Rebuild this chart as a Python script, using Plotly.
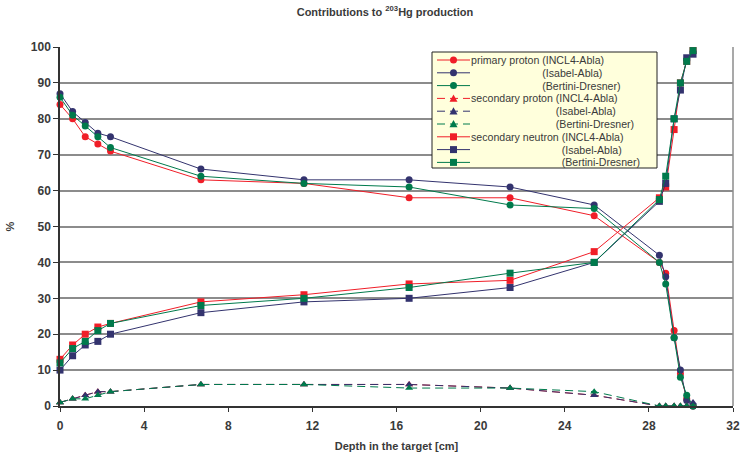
import plotly.graph_objects as go

# depth in the target [cm]
depth = [0, 0.6, 1.2, 1.8, 2.4, 6.7, 11.6, 16.6, 21.4, 25.4, 28.5, 28.8, 29.2, 29.5, 29.8, 30.1]

# contributions in %
prim_incl = [84, 80, 75, 73, 71, 63, 62, 58, 58, 53, 40, 37, 21, 9, 2, 0]
prim_isabel = [87, 82, 79, 76, 75, 66, 63, 63, 61, 56, 42, 36, 19, 10, 1.5, 0]
prim_bertini = [86, 81, 78, 75, 72, 64, 62, 61, 56, 55, 40, 34, 19, 8, 3, 0]

sec_p_incl = [1, 2, 3, 4, 4, 6, 6, 6, 5, 3, 0, 0, 0, 0, 0, 0]
sec_p_isabel = [1, 2, 3, 4, 4, 6, 6, 6, 5, 3, 0, 0, 0, 0, 0, 1]
sec_p_bertini = [1, 2, 2, 3, 4, 6, 6, 5, 5, 4, 0, 0, 0, 0, 0, 0]

sec_n_incl = [13, 17, 20, 22, 23, 29, 31, 34, 35, 43, 58, 61, 77, 90, 96, 99]
sec_n_isabel = [10, 14, 17, 18, 20, 26, 29, 30, 33, 40, 57, 62, 80, 88, 97, 98]
sec_n_bertini = [12, 16, 18, 21, 23, 28, 30, 33, 37, 40, 57.5, 64, 80, 90, 96, 99]

groups = ["primary proton", "secondary proton", "secondary neutron"]
models = ["INCL4-Abla", "Isabel-Abla", "Bertini-Dresner"]
values = [[prim_incl, prim_isabel, prim_bertini],
          [sec_p_incl, sec_p_isabel, sec_p_bertini],
          [sec_n_incl, sec_n_isabel, sec_n_bertini]]

colors = ["#f01e28", "#33336e", "#007a4c"]
symbols = ["circle", "triangle-up", "square"]
dashes = ["solid", "8px,5px", "solid"]

FONT = "Liberation Sans, Arial, sans-serif"
TXT = "#3a3a3a"
W, H = 740, 461
L, R, T, B = 60, 7, 47, 55


def px(x):
    return (x - L) / (W - L - R)


def py(y):
    return (H - B - y) / (H - T - B)


fig = go.Figure()

for g in range(3):
    for m in range(3):
        fig.add_trace(go.Scatter(
            x=depth,
            y=values[g][m],
            mode="lines+markers",
            name=groups[g] + " (" + models[m] + ")",
            line=dict(color=colors[m], width=1, dash=dashes[g]),
            marker=dict(symbol=symbols[g], size=7, color=colors[m], line=dict(width=0)),
            cliponaxis=False,
            showlegend=False,
        ))

# hand made legend, Excel style (rows tighter than plotly allows)
shapes = [
    dict(type="line", xref="paper", yref="paper", x0=1, x1=1, y0=0, y1=1,
         line=dict(color="#8c8c8c", width=1.5), layer="below"),
    dict(type="rect", xref="paper", yref="paper", x0=px(432), x1=px(657), y0=py(168), y1=py(52),
         fillcolor="#ffffdc", line=dict(color="#222222", width=1), layer="above"),
]
annotations = []
row = 0
for g in range(3):
    for m in range(3):
        yc = 60 + 12.8 * row
        col = colors[m]
        shapes.append(dict(type="line", xref="paper", yref="paper", x0=px(437), x1=px(470),
                           y0=py(yc), y1=py(yc), line=dict(color=col, width=1, dash=dashes[g]),
                           layer="above"))
        cx = 453.5
        if symbols[g] == "circle":
            shapes.append(dict(type="circle", xref="paper", yref="paper", x0=px(cx - 3.5), x1=px(cx + 3.5),
                               y0=py(yc + 3.5), y1=py(yc - 3.5), fillcolor=col, line=dict(width=0),
                               layer="above"))
        elif symbols[g] == "square":
            shapes.append(dict(type="rect", xref="paper", yref="paper", x0=px(cx - 3.5), x1=px(cx + 3.5),
                               y0=py(yc + 3.5), y1=py(yc - 3.5), fillcolor=col, line=dict(width=0),
                               layer="above"))
        else:
            path = "M %f,%f L %f,%f L %f,%f Z" % (px(cx - 4), py(yc + 3.3), px(cx + 4), py(yc + 3.3),
                                                   px(cx), py(yc - 4))
            shapes.append(dict(type="path", xref="paper", yref="paper", path=path, fillcolor=col,
                               line=dict(width=0), layer="above"))
        if m == 0:
            text = groups[g] + " (" + models[m] + ")"
        else:
            text = '<span style="color:rgba(0,0,0,0)">' + groups[g] + ' </span>(' + models[m] + ')'
        annotations.append(dict(xref="paper", yref="paper", x=px(469), y=py(yc), xanchor="left",
                                yanchor="middle", text=text, showarrow=False,
                                font=dict(family=FONT, size=10.6, color=TXT)))
        row += 1

fig.update_layout(
    width=W, height=H,
    margin=dict(l=L, r=R, t=T, b=B, autoexpand=False),
    paper_bgcolor="white", plot_bgcolor="white",
    font=dict(family=FONT, color=TXT),
    title=dict(text="<b>Contributions to <sup>203</sup>Hg production</b>", x=385 / W, xanchor="center",
               xref="container", y=1 - 12 / H, yanchor="middle", yref="container",
               font=dict(family=FONT, size=11, color=TXT)),
    shapes=shapes,
    annotations=annotations,
)

fig.update_xaxes(
    range=[0, 32], dtick=4, tick0=0, showgrid=False, zeroline=False, automargin=False,
    showline=True, linecolor="#333333", linewidth=1.5,
    ticks="outside", ticklen=4, tickcolor="#333333", ticklabelstandoff=4,
    tickfont=dict(family=FONT, size=12, color=TXT, weight="bold"),
    title=dict(text="<b>Depth in the target [cm]</b>", standoff=10,
               font=dict(family=FONT, size=11, color=TXT)),
)
fig.update_yaxes(
    range=[0, 100], dtick=10, tick0=0, showgrid=True, gridcolor="#8c8c8c", gridwidth=1.5,
    zeroline=False, showline=True, linecolor="#333333", linewidth=1.5, automargin=False,
    ticks="outside", ticklen=5, tickcolor="#333333",
    tickfont=dict(family=FONT, size=12, color=TXT, weight="bold"),
    title=dict(text="<b>%</b>", standoff=14, font=dict(family=FONT, size=11, color=TXT)),
)

# page body has a default 8px margin; drop it so the figure sits at the window corner
fig.write_html("out.html", config={"displayModeBar": False},
               post_script="document.body.style.margin = '0px';")
